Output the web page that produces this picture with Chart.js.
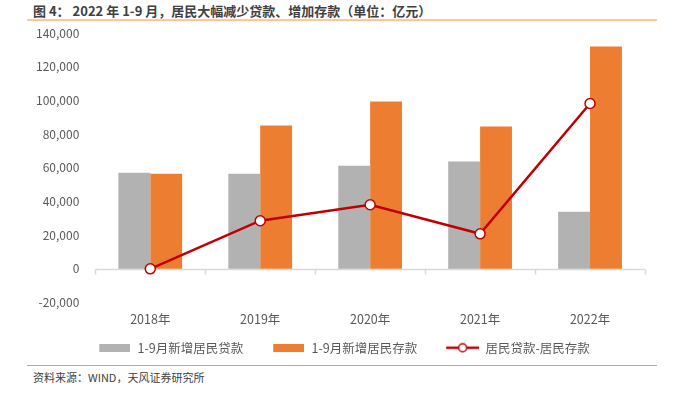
<!DOCTYPE html>
<html>
<head>
<meta charset="utf-8">
<script src="https://cdn.jsdelivr.net/npm/chart.js@4"></script>
<style>
  body { margin: 0; background: #fff; font-family: "Noto Sans CJK SC", "Noto Sans", sans-serif; }
  #wrap { position: relative; width: 673px; height: 397px; }
  #title { position: absolute; left: 33px; top: 1px; font-size: 13px; font-weight: bold; color: #404040; white-space: nowrap; }
  #topline { position: absolute; left: 27px; top: 19px; width: 630px; height: 2px; background: #f9c89b; }
  #box { position: absolute; left: 0; top: 18px; width: 673px; height: 346px; }
  #botline { position: absolute; left: 27px; top: 365px; width: 630px; height: 1px; background: #f39c3c; }
  #source { position: absolute; left: 33px; top: 369px; font-size: 11px; color: #404040; white-space: nowrap; }
</style>
</head>
<body>
<div id="wrap">
  <div id="title">图 4： 2022 年 1-9 月，居民大幅减少贷款、增加存款（单位：亿元）</div>
  <div id="topline"></div>
  <div id="box"><canvas id="myChart"></canvas></div>
  <div id="botline"></div>
  <div id="source">资料来源：WIND，天风证券研究所</div>
</div>
<script>
// 数据
const years = ["2018年", "2019年", "2020年", "2021年", "2022年"];
const loans = [57100, 56500, 61300, 63700, 33900];
const deposits = [56500, 85100, 99400, 84500, 132100];
const gap = [0, 28600, 38100, 20800, 98200];
const yTicks = [-20000, 0, 20000, 40000, 60000, 80000, 100000, 120000, 140000];

const grey = "#b2b2b2";
const orange = "#ed7d31";
const red = "#c00000";
const lead = 15;   // Abstand vor jedem Legendeneintrag

// Legenden-Symbole
function boxIcon(color) {
    let c = document.createElement("canvas");
    c.width = 31 + lead; c.height = 8;
    let ctx = c.getContext("2d");
    ctx.fillStyle = color;
    ctx.fillRect(lead, 0, 31, 8);
    return c;
}
function lineIcon() {
    let c = document.createElement("canvas");
    c.width = 33 + lead; c.height = 12;
    let ctx = c.getContext("2d");
    ctx.strokeStyle = red; ctx.lineWidth = 2.5;
    ctx.beginPath(); ctx.moveTo(lead, 6); ctx.lineTo(lead + 33, 6); ctx.stroke();
    ctx.fillStyle = "#fff"; ctx.lineWidth = 1.5;
    ctx.beginPath(); ctx.arc(lead + 16.5, 6, 4, 0, Math.PI * 2); ctx.fill(); ctx.stroke();
    return c;
}

// Nulllinie mit Teilstrichen
const zeroLine = {
    id: "zeroLine",
    beforeDatasetsDraw(chart) {
        let ctx = chart.ctx;
        let x = chart.scales.x, y = chart.scales.y;
        let y0 = Math.round(y.getPixelForValue(0)) + 0.5;
        ctx.save();
        ctx.strokeStyle = "#d9d9d9";
        ctx.lineWidth = 1.5;
        ctx.beginPath();
        ctx.moveTo(x.left, y0);
        ctx.lineTo(x.right, y0);
        let w = (x.right - x.left) / years.length;
        for (let i = 0; i <= years.length; i++) {
            let xx = Math.round(x.left + i * w) + 0.5;
            ctx.moveTo(xx, y0);
            ctx.lineTo(xx, y0 + 5);
        }
        ctx.stroke();
        ctx.restore();
    }
};

Chart.defaults.font.family = '"Noto Sans CJK SC", "Noto Sans", sans-serif';
Chart.defaults.color = "#595959";

const config = {
    type: "bar",
    data: {
        labels: years,
        datasets: [{
            type: "line",
            label: "居民贷款-居民存款",
            data: gap,
            borderColor: red,
            borderWidth: 2.5,
            pointRadius: 5,
            pointBorderWidth: 1.5,
            pointBackgroundColor: "#fff",
            pointBorderColor: red,
            order: 0
        }, {
            label: "1-9月新增居民贷款",
            data: loans,
            backgroundColor: grey,
            order: 1
        }, {
            label: "1-9月新增居民存款",
            data: deposits,
            backgroundColor: orange,
            order: 1
        }]
    },
    options: {
        responsive: true,
        maintainAspectRatio: false,
        animation: false,
        layout: { padding: { left: 28, right: 28, top: 0, bottom: 0 } },
        datasets: {
            bar: { categoryPercentage: 0.58, barPercentage: 1.0 }
        },
        scales: {
            x: {
                grid: { display: false },
                border: { display: false },
                ticks: { font: { size: 12.5 }, padding: 1 }
            },
            y: {
                min: -20000,
                max: 140000,
                afterBuildTicks(axis) {
                    axis.ticks = yTicks.map(v => ({ value: v }));
                },
                grid: { display: false },
                border: { display: false },
                ticks: {
                    font: { size: 12 },
                    padding: 8,
                    callback: v => v.toLocaleString("en-US")
                }
            }
        },
        plugins: {
            legend: {
                position: "bottom",
                labels: {
                    usePointStyle: true,
                    pointStyleWidth: 33 + lead,
                    padding: 14,
                    font: { size: 12.5 },
                    sort: (a, b) => a.datasetIndex === 0 ? 1 : (b.datasetIndex === 0 ? -1 : a.datasetIndex - b.datasetIndex),
                    generateLabels(chart) {
                        return chart.data.datasets.map((ds, i) => ({
                            text: ds.label,
                            datasetIndex: i,
                            pointStyle: i === 0 ? lineIcon() : boxIcon(ds.backgroundColor),
                            fillStyle: ds.backgroundColor || "#fff",
                            strokeStyle: "transparent",
                            lineWidth: 0,
                            fontColor: "#595959"
                        }));
                    }
                }
            },
            tooltip: { enabled: false }
        }
    },
    plugins: [zeroLine]
};

const myChart = new Chart(document.getElementById("myChart"), config);
</script>
</body>
</html>
